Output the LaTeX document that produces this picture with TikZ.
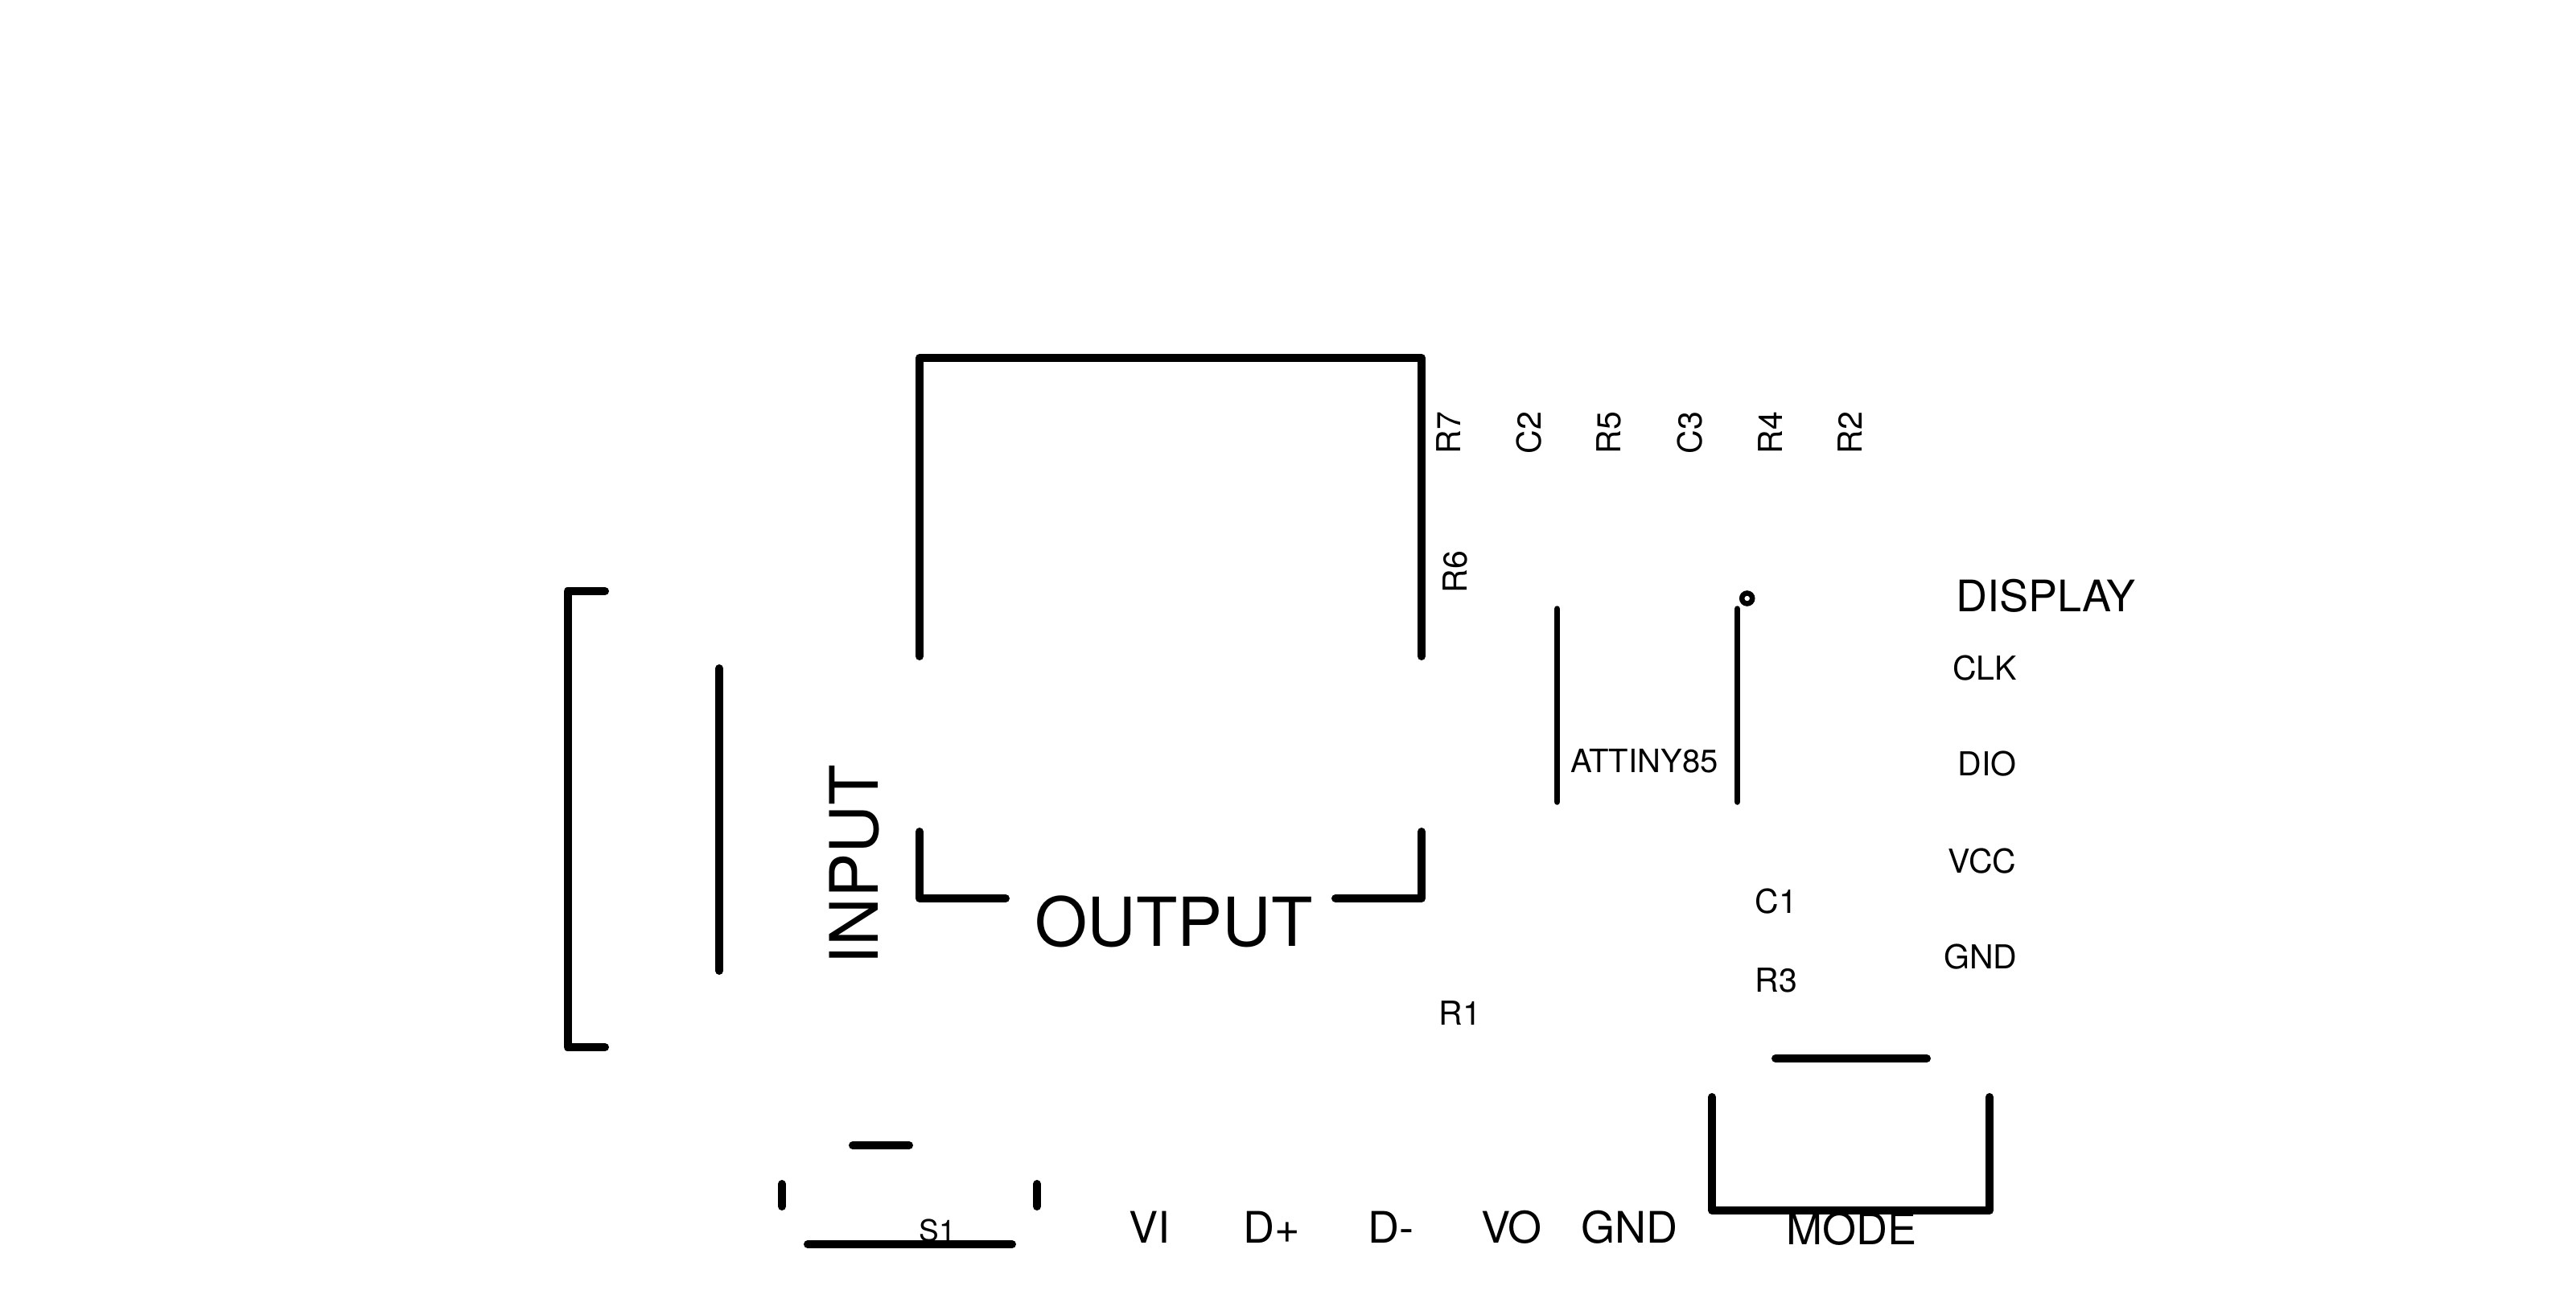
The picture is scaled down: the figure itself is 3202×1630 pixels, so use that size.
\documentclass[tikz,border=0pt]{standalone}
\usepackage{fontspec}
\setmainfont{TeX Gyre Heros}
\tikzset{
  wire/.style={draw=black,line width=10pt,line cap=round,line join=round},
  thinwire/.style={draw=black,line width=7.5pt,line cap=round},
  lbl/.style={inner sep=0pt,outer sep=0pt,anchor=base,text=black},
  small/.style={lbl,font=\fontsize{41}{41}\selectfont},
  tiny/.style={lbl,font=\fontsize{37}{37}\selectfont},
  mid/.style={lbl,font=\fontsize{54}{54}\selectfont},
  big/.style={lbl,font=\fontsize{84}{84}\selectfont},
}
\begin{document}
\begin{tikzpicture}[x=1pt,y=-1pt]
\useasboundingbox (0,0) rectangle (3202,1630);
\fill[white] (0,0) rectangle (3202,1630);
% big connector body
\draw[wire] (1143,816) -- (1143,445) -- (1767,445) -- (1767,816);
\draw[wire] (1143,1034) -- (1143,1117) -- (1250,1117);
\draw[wire] (1660,1117) -- (1767,1117) -- (1767,1034);
% left bracket
\draw[wire] (752,735) -- (705.5,735) -- (705.5,1302) -- (752,1302);
\draw[wire] (894,831) -- (894,1207);
% IC
\draw[thinwire] (1935.5,757) -- (1935.5,997);
\draw[thinwire] (2159.5,757) -- (2159.5,997);
\draw[black,line width=6.5pt] (2171.7,744) circle (6.5);
% mode switch
\draw[wire] (2207,1316) -- (2395,1316);
\draw[wire] (2128,1364) -- (2128,1505) -- (2473,1505) -- (2473,1364);
% S1
\draw[wire] (1060,1424) -- (1130,1424);
\draw[wire] (972,1472) -- (972,1500);
\draw[wire] (1289,1472) -- (1289,1500);
\draw[wire] (1004,1547) -- (1258,1547);
% labels
\node[lbl,font=\fontsize{83}{83}\selectfont,rotate=90] (input) at (1091,1075) {INPUT};
\node[big] (output) at (1459,1176) {OUTPUT};
\node[small,rotate=90] (r7) at (1815,538) {R7};
\node[small,rotate=90] (c2) at (1915,538) {C2};
\node[small,rotate=90] (r5) at (2014,538) {R5};
\node[small,rotate=90] (c3) at (2115,538) {C3};
\node[small,rotate=90] (r4) at (2215,538) {R4};
\node[small,rotate=90] (r2) at (2314,538) {R2};
\node[small,rotate=90] (r6) at (1823,711) {R6};
\node[lbl,font=\fontsize{40}{40}\selectfont] (attiny) at (2044,960) {ATTINY85};
\node[mid] (display) at (2543,760) {DISPLAY};
\node[small] (clk) at (2467,845) {CLK};
\node[small] (dio) at (2470,964) {DIO};
\node[small] (vcc) at (2464,1085) {VCC};
\node[small] (gnda) at (2462,1204) {GND};
\node[small] (c1) at (2208,1135) {C1};
\node[small] (r3) at (2208,1233) {R3};
\node[small] (r1) at (1815,1274) {R1};
\node[tiny] (s1) at (1165,1543) {S1};
\node[mid] (vi) at (1429,1545) {VI};
\node[mid] (dp) at (1581,1545) {D+};
\node[mid] (dm) at (1729,1545) {D-};
\node[mid] (vo) at (1879,1545) {VO};
\node[mid] (gndb) at (2025,1545) {GND};
\node[mid] (mode) at (2301,1547) {MODE};
\end{tikzpicture}
\end{document}
